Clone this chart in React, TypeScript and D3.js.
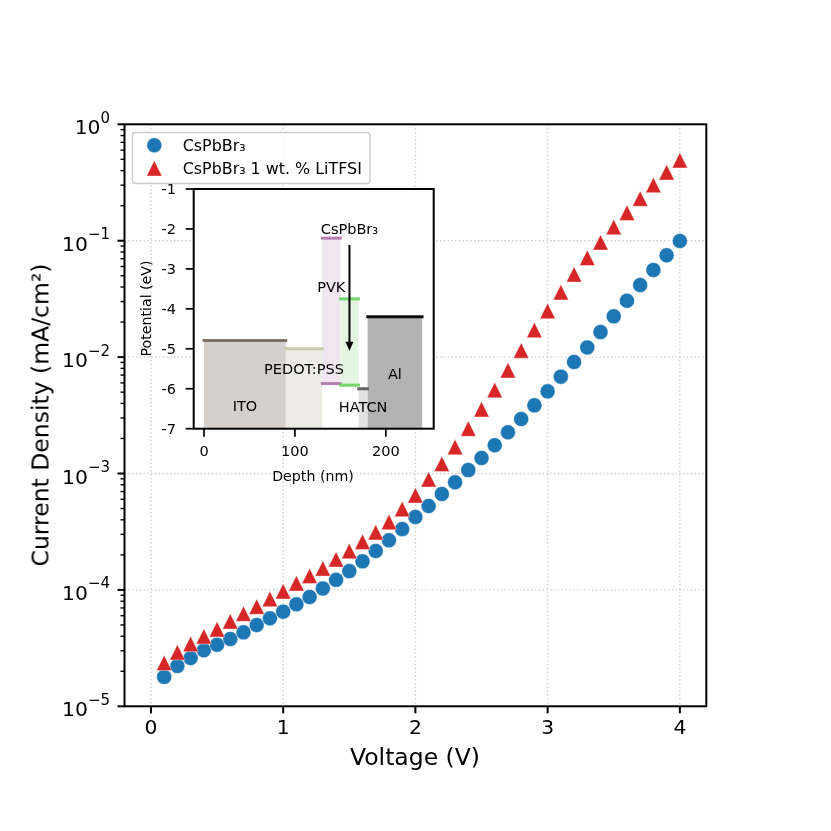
import React from 'react';
import * as d3 from 'd3';

const voltage = d3.range(1, 41).map((d) => d / 10);

const cspbbr3 = [
  1.79e-5, 2.22e-5, 2.6e-5, 3.03e-5, 3.38e-5, 3.79e-5, 4.32e-5, 4.99e-5, 5.7e-5, 6.5e-5,
  7.52e-5, 8.69e-5, 1.03e-4, 1.22e-4, 1.45e-4, 1.76e-4, 2.16e-4, 2.67e-4, 3.33e-4, 4.23e-4,
  5.26e-4, 6.67e-4, 8.4e-4, 1.07e-3, 1.36e-3, 1.75e-3, 2.26e-3, 2.94e-3, 3.85e-3, 5.08e-3,
  6.79e-3, 9.08e-3, 1.21e-2, 1.64e-2, 2.24e-2, 3.05e-2, 4.16e-2, 5.6e-2, 7.49e-2, 9.94e-2,
];

const litfsi = [
  2.36e-5, 2.91e-5, 3.43e-5, 3.99e-5, 4.59e-5, 5.37e-5, 6.25e-5, 7.18e-5, 8.36e-5, 9.73e-5,
  1.14e-4, 1.32e-4, 1.53e-4, 1.83e-4, 2.16e-4, 2.59e-4, 3.13e-4, 3.83e-4, 4.95e-4, 6.5e-4,
  8.91e-4, 1.21e-3, 1.69e-3, 2.43e-3, 3.56e-3, 5.21e-3, 7.71e-3, 1.14e-2, 1.71e-2, 2.49e-2,
  3.61e-2, 5.14e-2, 7.14e-2, 9.68e-2, 1.31e-1, 1.74e-1, 2.3e-1, 3.01e-1, 3.87e-1, 4.91e-1,
];

const legendLabels = ['CsPbBr₃', 'CsPbBr₃ 1 wt. % LiTFSI'];

// band diagram layers, nm and eV
const layerStart = [0, 90, 130, 150, 170, 180];
const layerEnd = [90, 130, 150, 170, 180, 240];
const layerTop = [-4.79, -5, -2.23, -3.75, -6, -4.2];
const layerBottom = [-7, -7, -5.87, -5.91, -7, -7];
const layerHasBottomLine = [false, false, true, true, false, false];

const labelNames = ['ITO', 'PEDOT:PSS', 'PVK', 'CsPbBr₃', 'HATCN', 'Al'];
const labelDepth = [45, 110, 140, 160, 175, 210];
const labelPotential = [-6.42, -5.5, -3.45, -2, -6.46, -5.63];

const insetDepthTicks = [0, 100, 200];
const insetPotentialTicks = [-1, -2, -3, -4, -5, -6, -7];

const fills = ['#d5d0cd', '#edece4', '#f1e6f0', '#e4f5e2', '#e3e3e3', '#b3b3b3'];
const lines = ['#7f6f69', '#c9c8ae', '#b47fb0', '#6fd56a', '#666666', '#111111'];

const font = "'DejaVu Sans', sans-serif";
const blue = '#1f77b4';
const red = '#d62728';
const tri = (cx: number, cy: number, r: number) =>
  `M${cx},${cy - r} L${cx + r},${cy + r} L${cx - r},${cy + r} Z`;

function App() {
  const left = 124.5;
  const right = 706.3;
  const top = 124.3;
  const bottom = 706.3;

  const x = d3.scaleLinear().domain([-0.2, 4.2]).range([left, right]);
  const y = d3.scaleLog().domain([1e-5, 1]).range([bottom, top]);

  const yTicks = y.ticks();
  const isMajor = (t: number) => Math.abs(Math.log10(t) - Math.round(Math.log10(t))) < 1e-9;
  const yMajor = yTicks.filter(isMajor);
  const yMinor = yTicks.filter((t) => !isMajor(t));
  const xTicks = [0, 1, 2, 3, 4];

  const inL = 193.7;
  const inR = 433.7;
  const inT = 189;
  const inB = 428.7;
  const ix = d3.scaleLinear().domain([-12, 252]).range([inL - 0.6, inR - 0.6]);
  const iy = d3.scaleLinear().domain([-7, -1]).range([inB, inT]);

  return (
    <svg
      width={831}
      height={831}
      viewBox="0 0 831 831"
      style={{ position: 'absolute', left: 0, top: 0, display: 'block', background: '#fff' }}
      fontFamily={font}
      fill="#000"
    >
      <defs>
        <filter id="soft" filterUnits="userSpaceOnUse" x="0" y="0" width="831" height="831">
          <feGaussianBlur stdDeviation="0.7" />
        </filter>
        <filter id="softer" filterUnits="userSpaceOnUse" x="0" y="0" width="831" height="831">
          <feGaussianBlur stdDeviation="0.35" />
        </filter>
      </defs>

      <g filter="url(#softer)">
        {/* grid */}
        <g stroke="#cfcfcf" strokeWidth={1.4} strokeDasharray="1.5 2.3" fill="none">
          {xTicks.map((t) => (
            <path key={t} d={`M${x(t)} ${top} V${bottom}`} />
          ))}
          {yMajor.map((t) => (
            <path key={t} d={`M${left} ${y(t)} H${right}`} />
          ))}
        </g>

        {/* data */}
        <g fill={blue} stroke="#fff" strokeWidth={0.4}>
          {voltage.map((v, i) => (
            <circle key={v} cx={x(v)} cy={y(cspbbr3[i])} r={7.5} />
          ))}
        </g>
        <g fill={red} stroke="#fff" strokeWidth={0.4}>
          {voltage.map((v, i) => (
            <path key={v} d={tri(x(v), y(litfsi[i]), 7.7)} />
          ))}
        </g>

        {/* axes */}
        <g stroke="#000" fill="none">
          <rect x={left} y={top} width={right - left} height={bottom - top} strokeWidth={2} />
          {xTicks.map((t) => (
            <path key={t} d={`M${x(t)} ${bottom} v7`} strokeWidth={2} />
          ))}
          {yMajor.map((t) => (
            <path key={t} d={`M${left} ${y(t)} h-7`} strokeWidth={2} />
          ))}
          {yMinor.map((t) => (
            <path key={t} d={`M${left} ${y(t)} h-4`} strokeWidth={1.4} />
          ))}
        </g>
        <g fontSize={20.3}>
          {xTicks.map((t) => (
            <text key={t} x={x(t)} y={734.3} textAnchor="middle">
              {t}
            </text>
          ))}
          {yMajor.map((t) => {
            const exp = Math.round(Math.log10(t));
            return (
              <text key={t} x={110} y={y(t) + 10} textAnchor="end">
                10
                <tspan dy={-11.5} fontSize={15}>
                  {exp < 0 ? `−${-exp}` : exp}
                </tspan>
              </text>
            );
          })}
        </g>
        <text x={415} y={765} fontSize={23.5} textAnchor="middle">
          Voltage (V)
        </text>
        <text transform="translate(48.5 415) rotate(-90)" fontSize={23.5} textAnchor="middle">
          Current Density (mA/cm²)
        </text>

        {/* legend */}
        <rect x={132.5} y={132.5} width={237.5} height={51} rx={3} fill="#fff" fillOpacity={0.8} stroke="#cccccc" strokeWidth={1.3} />
        <circle cx={154.3} cy={145.3} r={7.5} fill={blue} stroke="#fff" strokeWidth={0.4} />
        <path d={tri(154.3, 168.3, 7.7)} fill={red} stroke="#fff" strokeWidth={0.4} />
        {legendLabels.map((label, i) => (
          <text key={label} x={182.7} y={150.5 + i * 23} fontSize={15.9}>
            {label}
          </text>
        ))}
      </g>

      {/* inset */}
      <g filter="url(#soft)">
        <rect x={inL} y={inT} width={inR - inL} height={inB - inT} fill="#fff" />
        {layerStart.map((s, i) => (
          <rect
            key={s}
            x={ix(s)}
            y={iy(layerTop[i])}
            width={ix(layerEnd[i]) - ix(s)}
            height={iy(layerBottom[i]) - iy(layerTop[i])}
            fill={fills[i]}
          />
        ))}
        {layerStart.map((s, i) => (
          <g key={s} stroke={lines[i]} strokeWidth={3}>
            <path d={`M${ix(s - 1.5)} ${iy(layerTop[i])} H${ix(layerEnd[i] + 1.5)}`} />
            {layerHasBottomLine[i] && (
              <path d={`M${ix(s - 1.5)} ${iy(layerBottom[i])} H${ix(layerEnd[i] + 1.5)}`} />
            )}
          </g>
        ))}
        <path d={`M${ix(160)} ${iy(-2.4)} V${iy(-4.9)}`} stroke="#000" strokeWidth={2} fill="none" />
        <path d={`M${ix(160)} ${iy(-5.05)} l-4 -9 h8 Z`} fill="#000" />
        <rect x={inL} y={inT} width={inR - inL} height={inB - inT} fill="none" stroke="#000" strokeWidth={2} />
        <g stroke="#000" strokeWidth={1.7} fill="none">
          {insetDepthTicks.map((t) => (
            <path key={t} d={`M${ix(t)} ${inB} v8`} />
          ))}
          {insetPotentialTicks.map((t) => (
            <path key={t} d={`M${inL} ${iy(t)} h-8`} />
          ))}
        </g>
        <g fontSize={14.5}>
          {insetDepthTicks.map((t) => (
            <text key={t} x={ix(t)} y={456} textAnchor="middle">
              {t}
            </text>
          ))}
          {insetPotentialTicks.map((t) => (
            <text key={t} x={176} y={iy(t) + 5} textAnchor="end">
              {t}
            </text>
          ))}
          {labelNames.map((name, i) => (
            <text
              key={name}
              x={ix(labelDepth[i])}
              y={iy(labelPotential[i])}
              textAnchor="middle"
              dominantBaseline="central"
            >
              {name}
            </text>
          ))}
        </g>
        <text x={313} y={480.5} fontSize={14.2} textAnchor="middle">
          Depth (nm)
        </text>
        <text transform="translate(150.5 308.5) rotate(-90)" fontSize={14.2} textAnchor="middle">
          Potential (eV)
        </text>
      </g>
    </svg>
  );
}

export default App;
